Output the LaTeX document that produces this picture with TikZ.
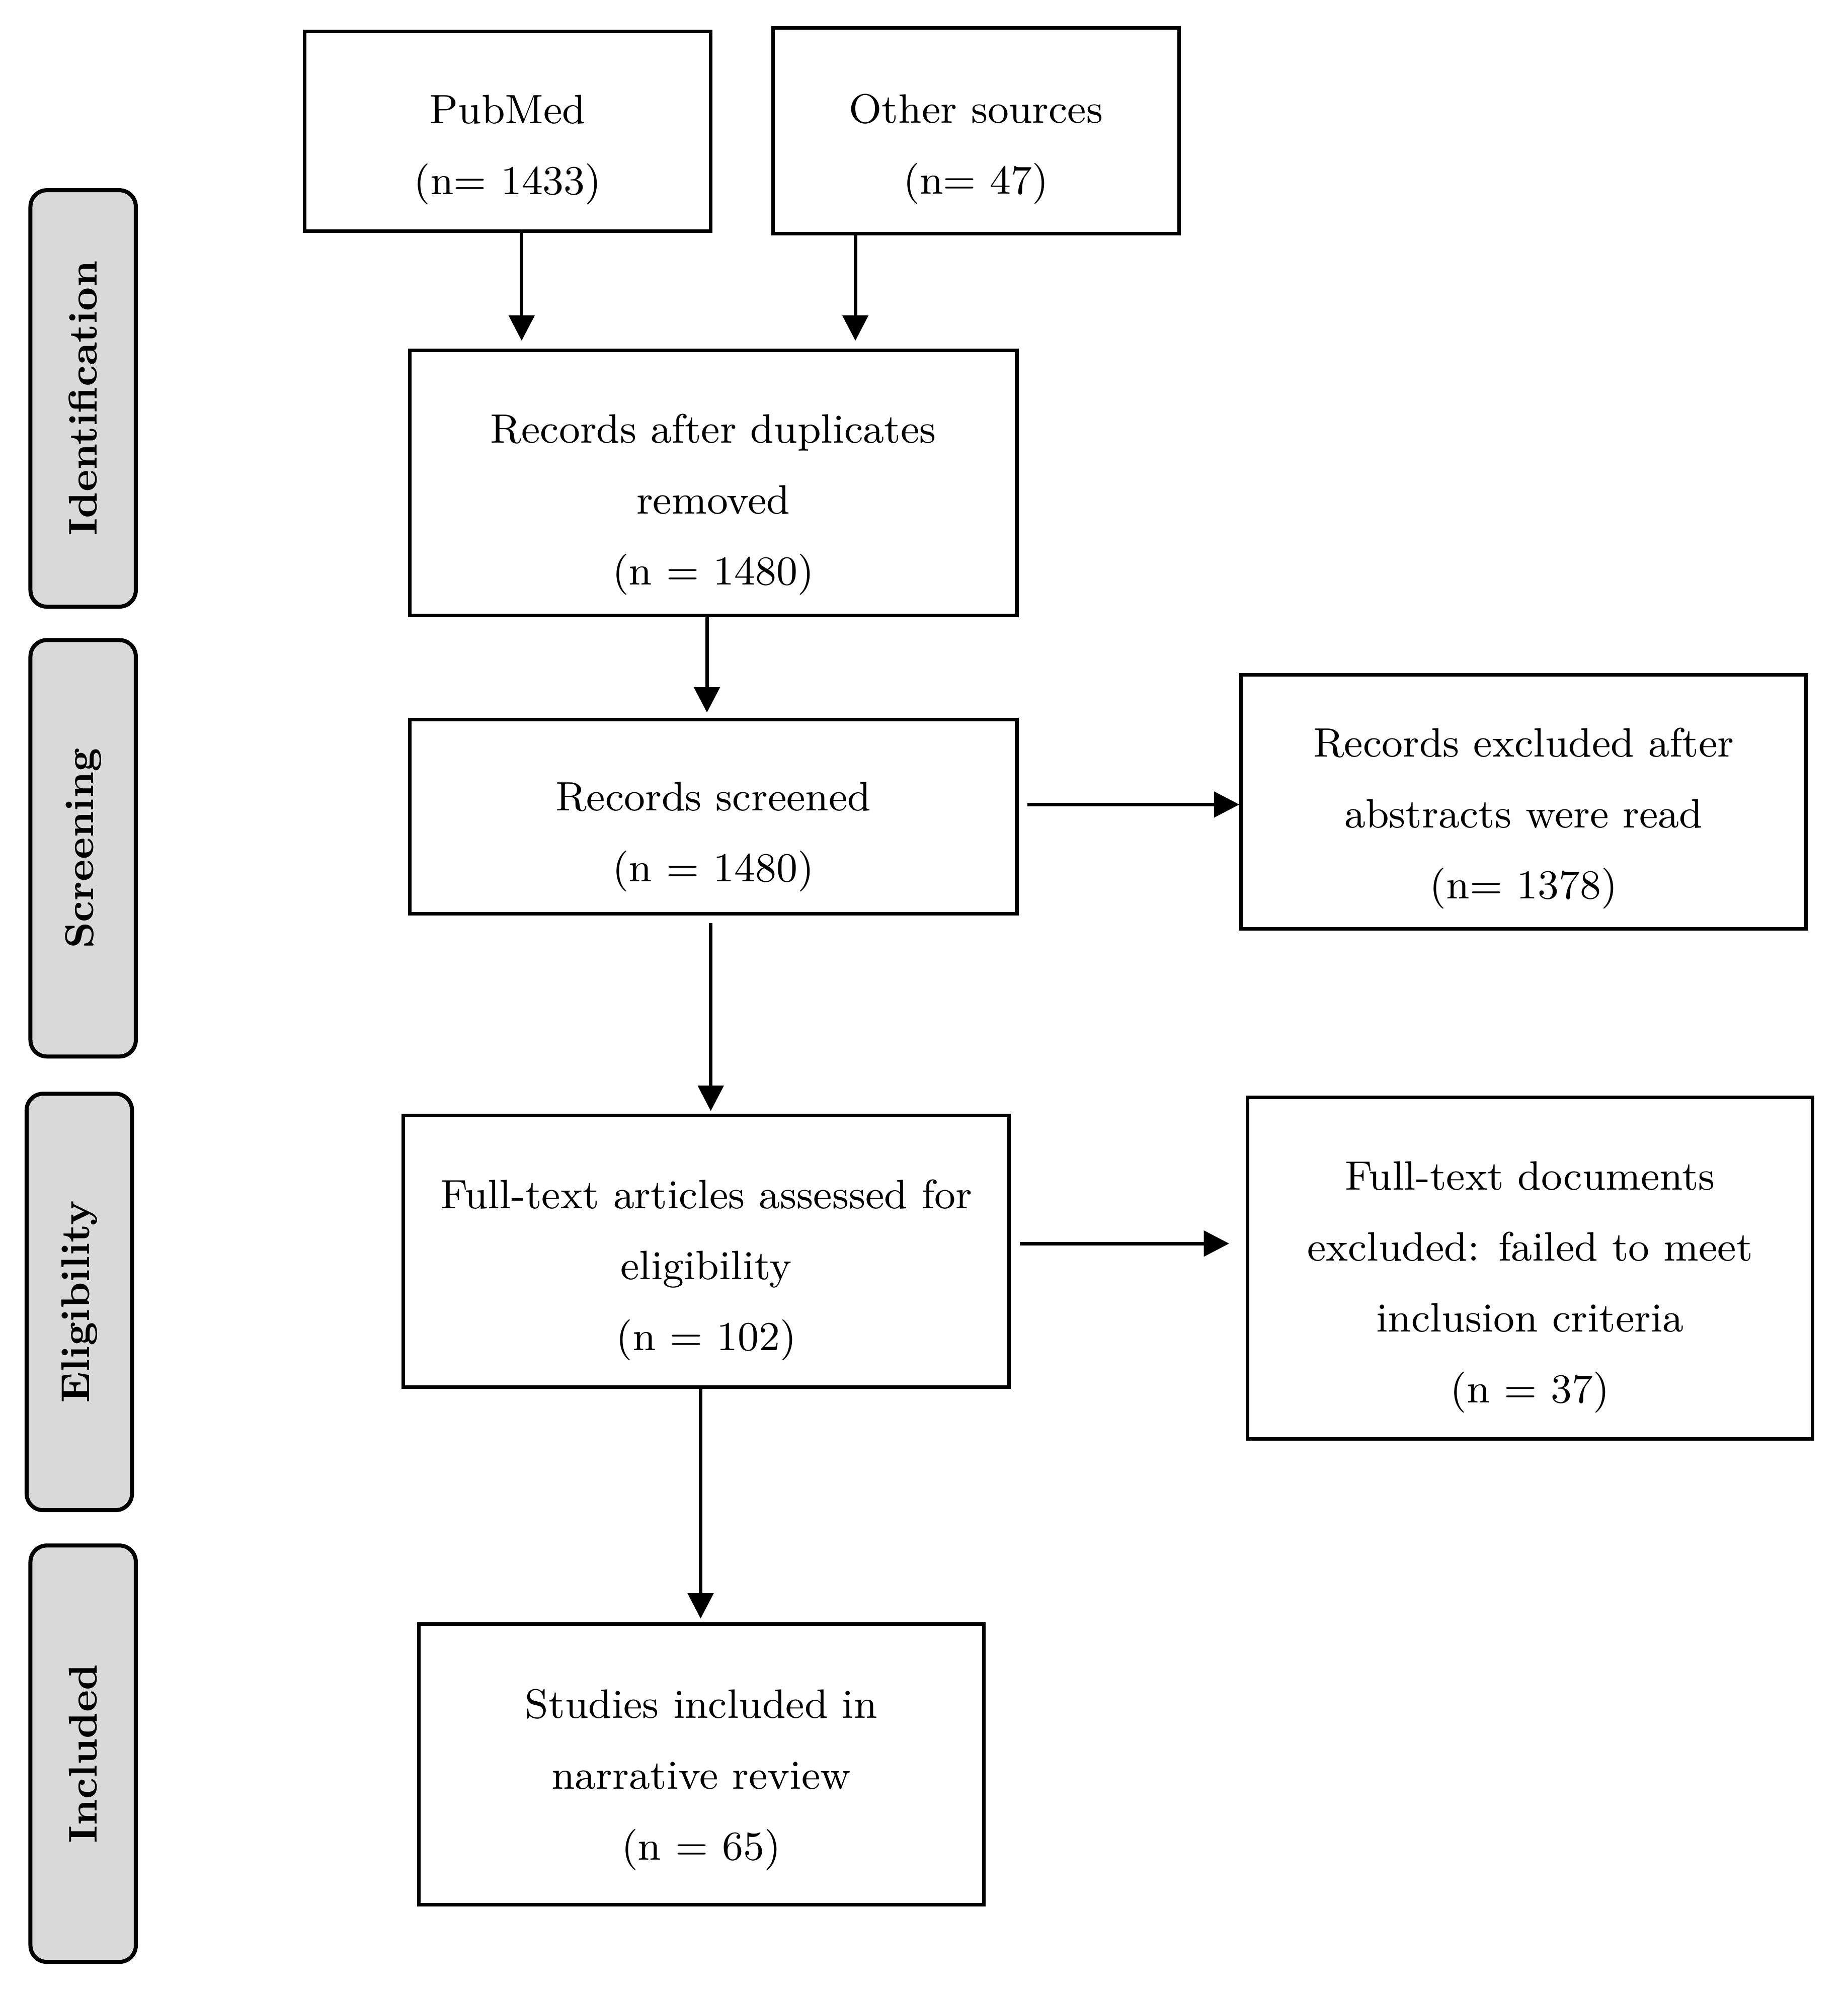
\documentclass[tikz,border=0pt]{standalone}
\usetikzlibrary{arrows.meta}
\definecolor{stagegray}{HTML}{D9D9D9}
\begin{document}
\begin{tikzpicture}[x=0.01cm,y=-0.01cm,
  box/.style={draw, line width=0.8pt, inner sep=0pt},
  txt/.style={align=center, font=\fontsize{9.2}{15.9}\selectfont, inner sep=0pt},
  stage/.style={draw, line width=0.9pt, fill=stagegray, rounded corners=1.3mm, rotate=90,
    minimum width=32.8mm, minimum height=8.3mm, font=\fontsize{9}{11}\selectfont\bfseries, inner sep=0pt},
  arr/.style={-{Triangle[length=2mm,width=2mm]}, line width=0.8pt}]
\useasboundingbox (0,0) rectangle (1456,1570.6);

% stage labels
\node[stage] (sid) at (65.5,314) {Identification};
\node[stage] (ssc) at (65.5,668.5) {Screening};
\node[stage] (sel) at (62.5,1026) {Eligibility};
\node[stage] (sin) at (65.5,1382) {Included};

% boxes
\node[box, minimum width=32mm, minimum height=15.7mm] (pub) at (400,103.5) {};
\node[box, minimum width=32mm, minimum height=16.2mm] (oth) at (769,103) {};
\node[box, minimum width=47.8mm, minimum height=20.9mm] (rec) at (562,380.5) {};
\node[box, minimum width=47.8mm, minimum height=15.3mm] (scr) at (562,643.5) {};
\node[box, minimum width=44.5mm, minimum height=20mm] (exa) at (1200.5,632) {};
\node[box, minimum width=47.7mm, minimum height=21.4mm] (ft) at (556.5,986) {};
\node[box, minimum width=44.5mm, minimum height=26.9mm] (exb) at (1205.5,999.5) {};
\node[box, minimum width=44.5mm, minimum height=22.1mm] (inc) at (552.5,1390.5) {};

% texts
\node[txt] (tpub) at ([yshift=-1.45mm]pub.center) {PubMed\\(n= 1433)};
\node[txt] (toth) at ([yshift=-1.45mm]oth.center) {Other sources\\(n= 47)};
\node[txt] (trec) at ([yshift=-1.7mm]rec.center) {Records after duplicates\\removed\\(n = 1480)};
\node[txt] (tscr) at ([yshift=-1.6mm]scr.center) {Records screened\\(n = 1480)};
\node[txt] (texa) at ([yshift=-1.3mm]exa.center) {Records excluded after\\abstracts were read\\(n= 1378)};
\node[txt] (tft) at ([yshift=-1.5mm]ft.center) {Full-text articles assessed for\\eligibility\\(n = 102)};
\node[txt] (texb) at ([yshift=-1.5mm]exb.center) {Full-text documents\\excluded: failed to meet\\inclusion criteria\\(n = 37)};
\node[txt] (tinc) at ([yshift=-1.2mm]inc.center) {Studies included in\\narrative review\\(n = 65)};

% arrows
\draw[arr, shorten >=0.6mm] ([xshift=1.1mm]pub.south) -- ([xshift=1.1mm]pub.south |- rec.north);
\draw[arr, shorten >=0.6mm] ([xshift=-9.5mm]oth.south) -- ([xshift=-9.5mm]oth.south |- rec.north);
\draw[arr, shorten >=0.4mm] ([xshift=-0.5mm]rec.south) -- ([xshift=-0.5mm]rec.south |- scr.north);
\draw[arr, shorten <=0.6mm, shorten >=0.2mm] ([xshift=-0.2mm]scr.south) -- ([xshift=-0.2mm]scr.south |- ft.north);
\draw[arr, shorten <=0.7mm] ([yshift=-0.2mm]scr.east |- exa.center) -- ([yshift=-0.2mm]exa.west);
\draw[arr, shorten <=0.7mm, shorten >=1.3mm] (ft.east |- exb.center) ++(0,1.95mm) coordinate (fa) (fa) -- (fa -| exb.west);
\draw[arr, shorten >=0.3mm] ([xshift=-0.45mm]ft.south) -- ([xshift=-0.45mm]ft.south |- inc.north);
\end{tikzpicture}
\end{document}
